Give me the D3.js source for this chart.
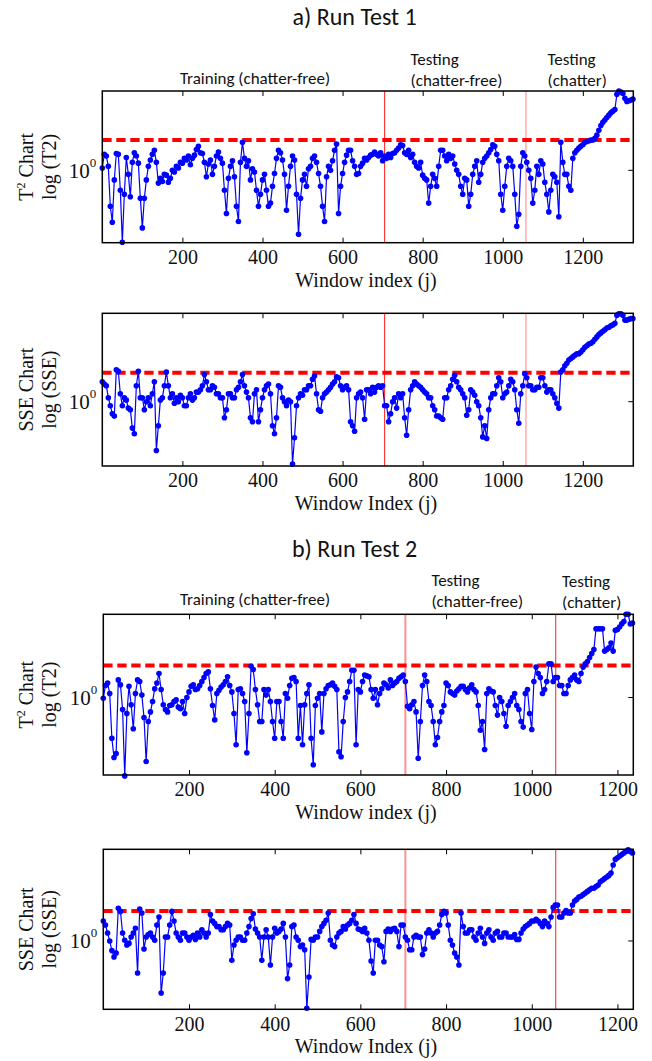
<!DOCTYPE html>
<html lang="en">
<head>
<meta charset="UTF-8">
<title>T2 and SSE control charts</title>
<script src="https://cdn.jsdelivr.net/npm/d3@7"></script>
<style>
  body { margin: 0; background: #fff; }
  svg { display: block; }
  .sans { font-family: Carlito, Calibri, Lato, sans-serif; fill: #111; }
  .serif { font-family: "Liberation Serif", "Times New Roman", serif; fill: #111; }
</style>
</head>
<body>
<div id="chart"></div>
<script>
// window index step of the values
const windowStep = 5

// Run Test 1, log10(T2), j = 0, 5, 10 ... 1325 (one row = 50 windows)
const t2LogA = [
  0.03, 0.20, 0.18, 0.05, -0.45, -0.65, -0.12, 0.21, 0.20, -0.25,
  -0.90, -0.30, 0.16, -0.05, -0.33, 0.10, 0.22, 0.18, 0.09, -0.35,
  -0.72, -0.35, -0.12, 0.05, 0.13, 0.20, 0.25, 0.10, -0.16, -0.10,
  -0.14, -0.05, -0.06, -0.15, -0.10, 0.00, -0.02, 0.05, 0.03, 0.10,
  0.09, 0.15, 0.13, 0.18, 0.07, 0.15, 0.19, 0.26, 0.30, 0.22,
  0.21, 0.10, -0.08, 0.08, 0.13, -0.05, 0.05, 0.18, 0.23, 0.15,
  0.09, -0.25, -0.54, -0.10, 0.05, 0.12, -0.08, -0.45, -0.64, 0.10,
  0.35, 0.15, 0.05, 0.12, -0.12, 0.02, -0.02, -0.25, -0.45, -0.30,
  -0.12, -0.05, -0.25, -0.45, -0.41, -0.20, -0.04, 0.15, 0.25, 0.22,
  0.13, -0.05, -0.50, -0.20, 0.05, 0.18, 0.13, -0.30, -0.80, -0.35,
  -0.12, -0.05, -0.20, 0.02, 0.05, 0.15, 0.18, 0.10, -0.04, -0.20,
  -0.45, -0.64, -0.08, 0.05, 0.00, 0.12, 0.25, 0.33, -0.54, -0.20,
  -0.04, 0.10, 0.19, 0.25, 0.25, 0.12, 0.05, -0.05, -0.04, 0.05,
  0.09, 0.15, 0.13, 0.16, 0.19, 0.20, 0.23, 0.20, 0.18, 0.22,
  0.12, 0.18, 0.15, 0.20, 0.16, 0.21, 0.22, 0.25, 0.28, 0.32,
  0.31, 0.22, 0.20, 0.25, 0.16, 0.20, 0.10, 0.05, 0.03, 0.10,
  -0.06, -0.10, -0.12, -0.41, -0.20, -0.05, -0.10, -0.20, 0.05, 0.25,
  0.25, 0.18, 0.12, 0.20, 0.15, 0.18, 0.08, 0.00, -0.05, -0.20,
  -0.30, -0.10, -0.12, -0.45, -0.30, -0.05, 0.05, 0.12, -0.15, -0.05,
  0.10, 0.15, 0.18, 0.22, 0.26, 0.32, 0.30, 0.20, 0.12, -0.30,
  -0.50, -0.20, 0.05, 0.15, 0.12, 0.05, -0.30, -0.70, -0.55, 0.05,
  0.22, 0.18, 0.10, 0.00, -0.10, -0.41, -0.25, 0.05, -0.05, 0.12,
  0.08, -0.15, -0.30, -0.52, -0.25, -0.05, -0.08, -0.15, -0.58, 0.35,
  0.10, -0.05, -0.05, -0.20, -0.25, 0.15, 0.22, 0.25, 0.28, 0.30,
  0.32, 0.35, 0.36, 0.37, 0.38, 0.38, 0.40, 0.44, 0.50, 0.56,
  0.60, 0.63, 0.66, 0.69, 0.72, 0.74, 0.76, 0.95, 0.99, 0.98,
  0.96, 0.90, 0.86, 0.87, 0.88, 0.89
]

// Run Test 1, log10(SSE), j = 0, 5 ... 1325
const sseLogA = [
  0.25, 0.22, 0.20, 0.05, -0.05, -0.15, -0.18, 0.40, 0.38, 0.10,
  -0.05, 0.05, 0.02, -0.08, -0.10, -0.33, -0.40, 0.20, 0.38, 0.05,
  0.05, -0.10, 0.00, 0.05, -0.05, 0.10, 0.25, -0.61, -0.30, 0.02,
  0.05, 0.20, 0.37, 0.20, 0.05, 0.10, -0.02, 0.05, 0.00, 0.08,
  0.05, -0.05, -0.05, 0.05, 0.10, 0.02, 0.05, 0.12, 0.12, 0.15,
  0.20, 0.34, 0.25, 0.15, 0.15, 0.20, 0.18, 0.10, 0.10, 0.05,
  0.05, -0.20, -0.10, 0.10, 0.10, 0.05, 0.05, 0.15, 0.18, 0.25,
  0.34, 0.20, 0.12, 0.05, -0.20, -0.25, 0.10, 0.15, -0.25, -0.10,
  0.05, 0.15, 0.20, 0.22, 0.10, -0.30, -0.40, -0.20, 0.20, 0.18,
  0.05, 0.00, -0.05, 0.02, 0.00, -0.78, -0.45, -0.05, 0.05, 0.10,
  0.08, 0.15, 0.15, 0.20, 0.20, 0.28, 0.32, 0.10, -0.10, -0.12,
  0.05, 0.10, 0.12, 0.15, 0.18, 0.22, 0.25, 0.31, 0.30, 0.20,
  0.15, 0.18, 0.20, 0.15, -0.25, -0.30, -0.37, 0.05, 0.10, 0.12,
  0.05, -0.22, 0.15, 0.15, 0.10, 0.18, 0.12, 0.18, 0.20, 0.18,
  0.20, -0.05, -0.05, -0.25, -0.15, 0.00, 0.05, -0.08, 0.10, 0.05,
  0.10, -0.20, -0.42, -0.10, 0.15, 0.20, 0.25, 0.22, 0.20, 0.18,
  0.15, 0.12, 0.10, 0.05, 0.05, -0.05, -0.10, -0.18, -0.18, -0.20,
  -0.22, 0.05, 0.05, 0.15, 0.20, 0.28, 0.33, 0.25, 0.18, 0.15,
  0.10, 0.05, -0.17, -0.10, 0.15, 0.12, 0.08, 0.00, -0.05, -0.20,
  -0.44, -0.30, -0.46, -0.10, 0.05, 0.10, 0.10, 0.20, 0.30, 0.25,
  0.05, 0.10, 0.12, 0.20, 0.28, 0.25, 0.15, -0.10, -0.27, 0.10,
  0.20, 0.35, 0.30, 0.20, 0.20, 0.15, 0.15, 0.18, 0.18, 0.30,
  0.30, 0.20, 0.12, 0.15, 0.15, 0.10, 0.05, -0.02, -0.08, 0.37,
  0.40, 0.45, 0.48, 0.52, 0.54, 0.56, 0.58, 0.60, 0.60, 0.62,
  0.65, 0.68, 0.70, 0.72, 0.73, 0.75, 0.78, 0.81, 0.84, 0.86,
  0.88, 0.90, 0.92, 0.93, 0.95, 0.96, 0.98, 1.08, 1.10, 1.10,
  1.08, 1.02, 1.02, 1.03, 1.04, 1.04
]

// Run Test 2, log10(T2), j = 0, 5 ... 1235
const t2LogB = [
  -0.01, 0.15, 0.18, 0.05, -0.51, -0.75, -0.70, 0.22, 0.16, -0.15,
  -0.98, -0.20, 0.14, -0.09, -0.39, 0.05, 0.22, 0.20, 0.03, -0.25,
  -0.80, -0.30, -0.18, -0.05, 0.11, 0.18, 0.30, 0.10, -0.09, -0.15,
  -0.18, -0.10, -0.09, -0.05, -0.03, -0.12, -0.14, -0.05, -0.20, 0.00,
  0.07, 0.14, 0.16, 0.10, 0.11, 0.15, 0.20, 0.25, 0.30, 0.32,
  0.11, -0.10, -0.28, 0.05, 0.09, 0.13, 0.16, 0.20, 0.26, 0.15,
  0.07, -0.20, -0.59, 0.10, 0.11, 0.05, -0.05, -0.69, -0.20, 0.39,
  0.35, 0.10, -0.09, -0.30, -0.30, 0.10, 0.03, 0.10, -0.05, -0.30,
  -0.51, -0.05, -0.05, -0.30, -0.51, 0.05, -0.01, 0.15, 0.24, 0.25,
  0.20, -0.51, -0.10, -0.59, -0.09, 0.05, 0.16, -0.51, -0.84, -0.10,
  -0.01, 0.05, -0.43, 0.05, 0.11, 0.15, 0.16, 0.18, 0.14, 0.10,
  -0.68, -0.74, -0.30, 0.00, 0.07, 0.20, 0.34, 0.34, -0.59, 0.10,
  0.07, 0.20, 0.28, 0.27, 0.26, 0.10, -0.01, 0.10, -0.09, 0.05,
  0.11, 0.18, 0.16, 0.12, 0.22, 0.15, 0.18, 0.20, 0.24, 0.26,
  0.28, 0.20, -0.11, -0.14, -0.09, -0.05, -0.18, -0.76, -0.30, 0.15,
  0.28, 0.20, -0.05, -0.10, -0.30, -0.59, -0.50, -0.30, -0.18, -0.10,
  0.18, 0.15, 0.07, 0.05, 0.03, 0.08, 0.11, 0.14, 0.14, 0.10,
  0.07, 0.12, 0.16, 0.10, 0.07, -0.10, -0.41, -0.30, -0.65, 0.05,
  0.11, 0.08, 0.07, -0.10, -0.22, 0.00, -0.05, -0.20, -0.36, -0.10,
  -0.05, 0.00, 0.05, -0.10, -0.15, -0.30, -0.37, 0.05, 0.10, -0.20,
  -0.40, 0.20, 0.38, 0.30, 0.25, 0.05, 0.10, 0.20, 0.42, 0.42,
  0.20, 0.25, 0.25, 0.15, 0.15, 0.05, 0.05, 0.15, 0.22, 0.25,
  0.28, 0.22, 0.20, 0.30, 0.38, 0.42, 0.45, 0.50, 0.55, 0.60,
  0.86, 0.86, 0.86, 0.86, 0.58, 0.60, 0.62, 0.68, 0.58, 0.84,
  0.85, 0.88, 0.92, 0.95, 1.04, 1.04, 0.92, 0.93
]

// Run Test 2, log10(SSE), j = 0, 5 ... 1235
const sseLogB = [
  0.25, 0.20, 0.10, 0.00, -0.12, -0.20, -0.15, 0.41, 0.37, 0.10,
  0.01, -0.05, -0.03, 0.05, 0.10, 0.16, -0.40, 0.40, 0.35, -0.10,
  0.05, 0.08, 0.10, 0.05, 0.01, 0.20, 0.30, -0.65, -0.40, 0.05,
  0.05, 0.20, 0.37, 0.25, 0.10, 0.05, 0.01, 0.10, 0.10, 0.05,
  0.01, 0.05, 0.07, 0.02, 0.10, 0.05, 0.14, 0.10, 0.05, 0.10,
  0.33, 0.25, 0.22, 0.18, 0.18, 0.14, 0.14, 0.18, 0.22, 0.20,
  -0.24, -0.05, 0.01, 0.05, 0.05, 0.01, 0.01, 0.10, 0.18, 0.28,
  0.34, 0.15, 0.10, 0.05, -0.24, 0.05, 0.14, 0.05, -0.30, 0.05,
  0.16, 0.10, 0.12, 0.15, 0.22, 0.05, -0.47, -0.30, 0.18, 0.20,
  0.05, 0.01, -0.07, -0.05, -0.11, -0.84, -0.45, 0.02, 0.01, 0.05,
  0.05, 0.12, 0.18, 0.22, 0.26, 0.35, 0.01, -0.05, -0.07, 0.05,
  0.10, 0.12, 0.18, 0.15, 0.20, 0.22, 0.26, 0.33, 0.22, 0.15,
  0.14, 0.12, 0.16, 0.10, 0.01, -0.25, -0.40, 0.01, 0.01, -0.05,
  -0.07, -0.26, 0.12, 0.15, 0.12, 0.15, 0.16, 0.12, -0.07, 0.20,
  0.20, 0.05, 0.01, -0.11, -0.11, 0.05, 0.07, 0.05, 0.05, -0.17,
  -0.10, 0.10, 0.14, 0.10, 0.05, 0.10, 0.12, 0.20, 0.33, 0.37,
  0.35, 0.20, 0.01, -0.05, -0.15, -0.20, -0.30, 0.35, 0.18, 0.10,
  0.10, 0.14, 0.14, 0.05, 0.01, 0.10, 0.16, 0.05, -0.03, 0.10,
  0.14, 0.05, 0.01, 0.10, 0.12, 0.05, 0.05, 0.10, 0.10, 0.05,
  0.05, 0.05, 0.08, 0.02, 0.02, 0.10, 0.15, 0.18, 0.20, 0.22,
  0.25, 0.25, 0.27, 0.25, 0.22, 0.18, 0.25, 0.22, 0.18, 0.30,
  0.42, 0.45, 0.45, 0.30, 0.30, 0.35, 0.38, 0.35, 0.35, 0.45,
  0.50, 0.52, 0.55, 0.56, 0.58, 0.60, 0.62, 0.64, 0.66, 0.66,
  0.68, 0.70, 0.74, 0.76, 0.78, 0.80, 0.82, 0.85, 0.95, 1.02,
  1.04, 1.06, 1.08, 1.10, 1.12, 1.14, 1.12, 1.10
]

// control limits (log10) and phase boundaries
const limitsLog = [0.38, 0.3625, 0.40, 0.375]
const splitsA = [705, 1058]
const splitsB = [705, 1056]
const xTicks = [200, 400, 600, 800, 1000, 1200]

const width = 652
const height = 1061

const svg = d3.select('#chart')
  .append('svg')
  .attr('width', width)
  .attr('height', height)

const panels = [
  { values: t2LogA, limit: limitsLog[0], splits: splitsA, xMax: 1326, left: 102.3, top: 91, bottom: 242.7, yDom: [-0.905, 0.992],
    chart: 'T2', xLabel: 'Window index (j)', splitColors: ['#ff2020', '#ff8080'], splitWidths: [1, 1] },
  { values: sseLogA, limit: limitsLog[1], splits: splitsA, xMax: 1326, left: 102.3, top: 313.3, bottom: 466, yDom: [-0.804, 1.105],
    chart: 'SSE', xLabel: 'Window Index (j)', splitColors: ['#ff2020', '#ff8080'], splitWidths: [1, 1] },
  { values: t2LogB, limit: limitsLog[2], splits: splitsB, xMax: 1237, left: 103.3, top: 614.3, bottom: 775, yDom: [-0.969, 1.04],
    chart: 'T2', xLabel: 'Window index (j)', splitColors: ['#ff9090', '#ff2020'], splitWidths: [2, 1] },
  { values: sseLogB, limit: limitsLog[3], splits: splitsB, xMax: 1237, left: 103.3, top: 849.3, bottom: 1009.3, yDom: [-0.854, 1.146],
    chart: 'SSE', xLabel: 'Window Index (j)', splitColors: ['#ff9090', '#ff2020'], splitWidths: [2, 1] }
]
const right = 633.3

panels.forEach(p => {
  const g = svg.append('g')
  const x = d3.scaleLinear().domain([0, p.xMax]).range([p.left, right])
  const y = d3.scaleLinear().domain(p.yDom).range([p.bottom, p.top])
  const pts = p.values.map((v, i) => ({ j: i * windowStep, v }))

  // phase boundaries
  p.splits.forEach((s, i) => {
    g.append('line')
      .attr('x1', x(s)).attr('x2', x(s))
      .attr('y1', p.top).attr('y2', p.bottom)
      .attr('stroke', p.splitColors[i])
      .attr('stroke-width', p.splitWidths[i])
  })

  // control limit
  g.append('line')
    .attr('x1', p.left).attr('x2', right)
    .attr('y1', y(p.limit)).attr('y2', y(p.limit))
    .attr('stroke', '#ff0000')
    .attr('stroke-width', 4)
    .attr('stroke-dasharray', '9.3,4.7')

  // series
  g.append('path')
    .datum(pts)
    .attr('fill', 'none')
    .attr('stroke', '#0000ff')
    .attr('stroke-width', 1.2)
    .attr('d', d3.line().x(d => x(d.j)).y(d => y(d.v)))

  g.selectAll('circle')
    .data(pts)
    .enter()
    .append('circle')
    .attr('cx', d => x(d.j))
    .attr('cy', d => y(d.v))
    .attr('r', 2.8)
    .attr('fill', '#0000ff')

  // axes: ticks point inward, labels only at the bottom
  const xAxis = d3.axisBottom(x).tickValues(xTicks).tickFormat(d3.format('d'))
    .tickSizeInner(-5).tickSizeOuter(0).tickPadding(7)
  const gx = g.append('g')
    .attr('transform', `translate(0, ${p.bottom})`)
    .call(xAxis)
  gx.selectAll('text')
    .attr('class', 'serif')
    .style('font-size', '20px')
    .attr('dy', '0.72em')
  gx.select('.domain').remove()

  g.append('g')
    .attr('transform', `translate(0, ${p.top})`)
    .call(d3.axisTop(x).tickValues(xTicks).tickSizeInner(-5).tickSizeOuter(0).tickFormat(''))
    .select('.domain').remove()

  g.append('line')
    .attr('x1', right - 5).attr('x2', right)
    .attr('y1', y(0)).attr('y2', y(0))
    .attr('stroke', '#000')

  g.selectAll('.tick line').attr('stroke', '#000')

  g.append('rect')
    .attr('x', p.left).attr('y', p.top)
    .attr('width', right - p.left).attr('height', p.bottom - p.top)
    .attr('fill', 'none')
    .attr('stroke', '#000')
    .attr('stroke-width', 1.5)

  // 10^0 label
  const yl = g.append('text')
    .attr('class', 'serif')
    .attr('x', p.left - 6)
    .attr('y', y(0) + 7.5)
    .attr('text-anchor', 'end')
    .style('font-size', '21px')
  yl.append('tspan').text('10')
  yl.append('tspan').attr('dy', -11).style('font-size', '13px').text('0')

  // axis titles
  g.append('text')
    .attr('class', 'serif')
    .attr('x', 366)
    .attr('y', p.bottom + 44)
    .attr('text-anchor', 'middle')
    .style('font-size', '20px')
    .text(p.xLabel)

  const cy = (p.top + p.bottom) / 2
  const l1 = g.append('text')
    .attr('class', 'serif')
    .attr('transform', `translate(33, ${cy}) rotate(-90)`)
    .attr('text-anchor', 'middle')
    .style('font-size', '20px')
  if (p.chart === 'T2') {
    l1.append('tspan').text('T')
    l1.append('tspan').attr('dy', -8).style('font-size', '12px').text('2')
    l1.append('tspan').attr('dy', 8).text(' Chart')
  } else {
    l1.text('SSE Chart')
  }
  g.append('text')
    .attr('class', 'serif')
    .attr('transform', `translate(56, ${cy}) rotate(-90)`)
    .attr('text-anchor', 'middle')
    .style('font-size', '20px')
    .text(p.chart === 'T2' ? 'log (T2)' : 'log (SSE)')
})

// run titles and phase notes
const notes = [
  { t: 'a) Run Test 1', x: 354.6, y: 25, size: 24, anchor: 'middle' },
  { t: 'Training (chatter-free)', x: 255, y: 84, size: 17, anchor: 'middle' },
  { t: 'Testing', x: 410.6, y: 65, size: 17, anchor: 'start' },
  { t: '(chatter-free)', x: 410.6, y: 86, size: 17, anchor: 'start' },
  { t: 'Testing', x: 547.5, y: 65, size: 17, anchor: 'start' },
  { t: '(chatter)', x: 547.5, y: 86, size: 17, anchor: 'start' },
  { t: 'b) Run Test 2', x: 354.6, y: 557, size: 24, anchor: 'middle' },
  { t: 'Training (chatter-free)', x: 255, y: 605, size: 17, anchor: 'middle' },
  { t: 'Testing', x: 431.4, y: 586, size: 17, anchor: 'start' },
  { t: '(chatter-free)', x: 431.4, y: 607, size: 17, anchor: 'start' },
  { t: 'Testing', x: 562, y: 587, size: 17, anchor: 'start' },
  { t: '(chatter)', x: 562, y: 608, size: 17, anchor: 'start' }
]

svg.selectAll('text.note')
  .data(notes)
  .enter()
  .append('text')
  .attr('class', 'note sans')
  .attr('x', d => d.x)
  .attr('y', d => d.y)
  .attr('text-anchor', d => d.anchor)
  .style('font-size', d => d.size + 'px')
  .text(d => d.t)
</script>
</body>
</html>
